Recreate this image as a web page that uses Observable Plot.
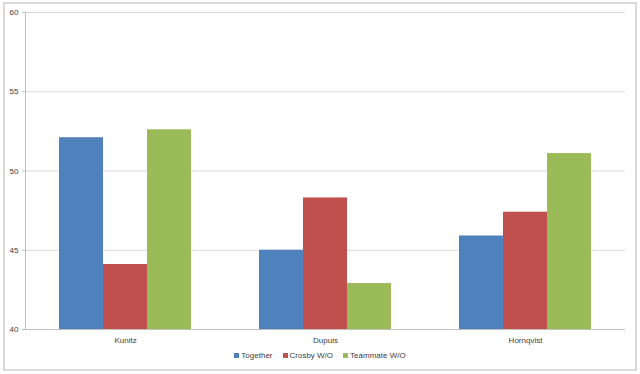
<!DOCTYPE html>
<html>
<head>
<meta charset="utf-8">
<script src="https://cdn.jsdelivr.net/npm/d3@7"></script>
<script src="https://cdn.jsdelivr.net/npm/@observablehq/plot@0.6"></script>
<style>
  html, body { margin: 0; padding: 0; background: #fff; }
  body { width: 640px; height: 374px; position: relative; overflow: hidden; font-family: "Liberation Sans", "DejaVu Sans", sans-serif; }
  #frame { position: absolute; left: 3px; top: 2px; width: 630px; height: 365px; border: 2px solid #d9d9d9; box-sizing: content-box; }
  #chart { position: absolute; left: 0; top: 0; }
  #legend { position: absolute; left: 0; top: 351px; width: 640px; text-align: center; font-size: 8px; color: #404040; }
  #legend span.item { display: inline-block; margin: 0 5px; }
  #legend span.sw { display: inline-block; width: 5px; height: 5px; margin-right: 2px; vertical-align: 0px; }
</style>
</head>
<body>
<div id="frame"></div>
<div id="chart"></div>
<div id="legend"></div>
<script>
const categories = ["Kunitz", "Dupuis", "Hornqvist"];
const series = ["Together", "Crosby W/O", "Teammate W/O"];
const together = [52.1, 45.0, 45.9];
const crosbyWO = [44.1, 48.3, 47.4];
const teammateWO = [52.6, 42.9, 51.1];
const yTicks = [40, 45, 50, 55, 60];
const colors = ["#4F81BD", "#C0504D", "#9BBB59"];

const seriesValues = [together, crosbyWO, teammateWO];
const data = [];
categories.forEach((c, i) => {
  series.forEach((s, j) => {
    data.push({category: c, series: s, value: seriesValues[j][i]});
  });
});

const chart = Plot.plot({
  width: 640,
  height: 348,
  marginLeft: 25,
  marginRight: 15,
  marginTop: 12,
  marginBottom: 19,
  style: {fontFamily: "'Liberation Sans', 'DejaVu Sans', sans-serif", fontSize: "8px", color: "#404040", background: "transparent"},
  fx: {domain: categories, paddingInner: 0, paddingOuter: 0, label: null},
  x: {domain: series, paddingInner: 0, paddingOuter: 0.74, axis: null},
  y: {domain: [yTicks[0], yTicks[yTicks.length - 1]], ticks: yTicks, label: null},
  color: {domain: series, range: colors},
  marks: [
    Plot.gridY(yTicks, {stroke: "#d9d9d9", strokeOpacity: 1, strokeWidth: 1}),
    Plot.barY(data, {fx: "category", x: "series", y1: yTicks[0], y2: "value", fill: "series", inset: 0}),
    Plot.ruleY([yTicks[0]], {stroke: "#bfbfbf", strokeWidth: 1}),
    Plot.frame({anchor: "left", facetAnchor: "left", stroke: "#bfbfbf"}),
    Plot.axisY(yTicks, {anchor: "left", tickSize: 3, tickPadding: 4, stroke: "#bfbfbf", fill: "#404040", fontSize: 8}),
    Plot.axisFx({anchor: "bottom", tickSize: 0, tickPadding: 8, fill: "#404040", fontSize: 8, label: null})
  ]
});
document.getElementById("chart").appendChild(chart);

const legend = document.getElementById("legend");
series.forEach((s, j) => {
  const item = document.createElement("span");
  item.className = "item";
  const sw = document.createElement("span");
  sw.className = "sw";
  sw.style.background = colors[j];
  item.appendChild(sw);
  item.appendChild(document.createTextNode(s));
  legend.appendChild(item);
});
</script>
</body>
</html>
